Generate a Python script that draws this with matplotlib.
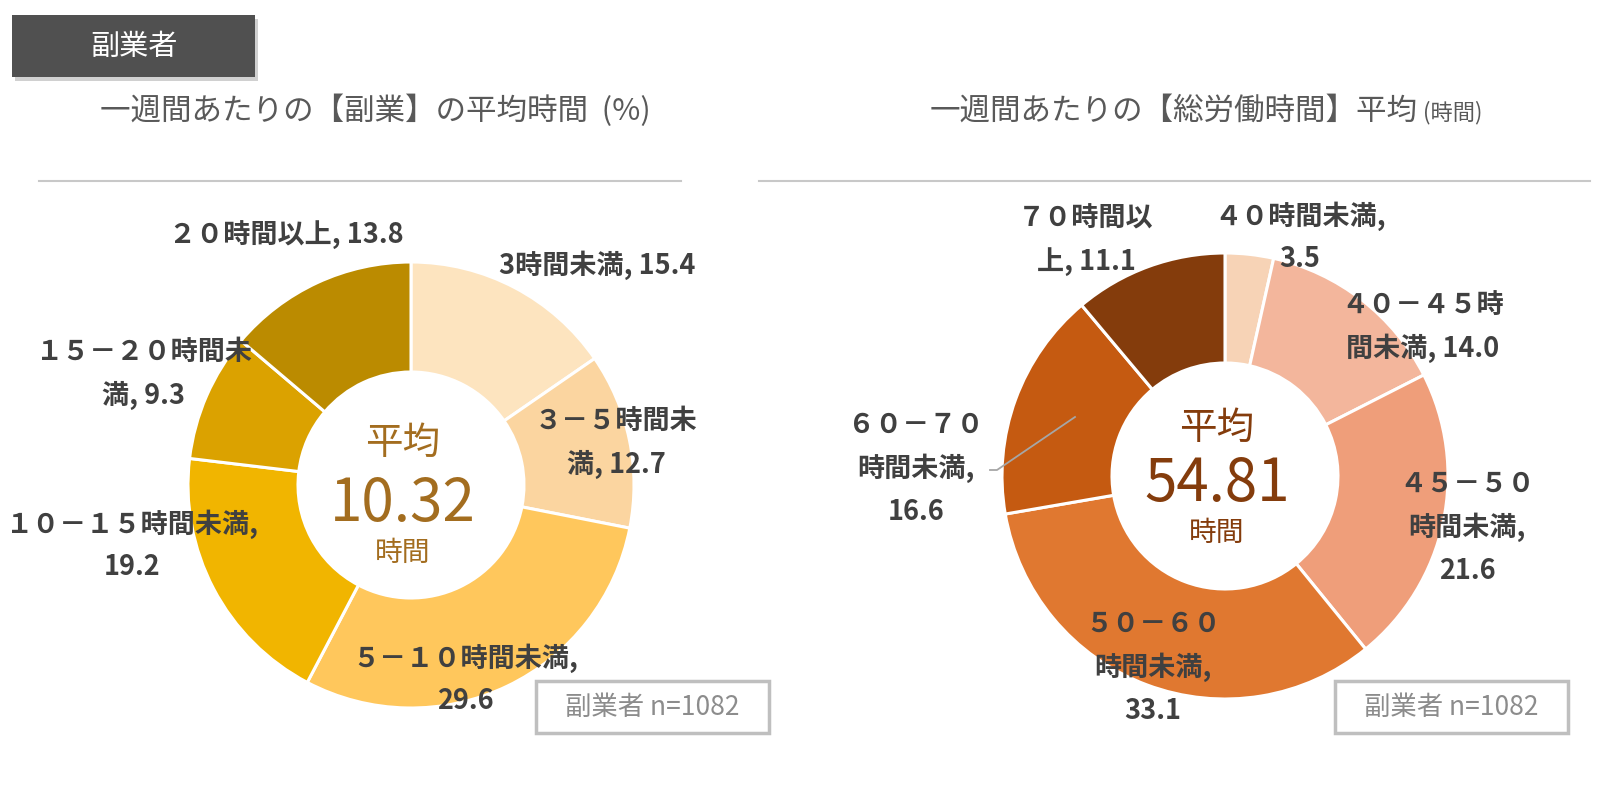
import matplotlib
matplotlib.use('Agg')
import matplotlib.pyplot as plt
from matplotlib.patches import Rectangle

plt.rcParams['font.family'] = ['Noto Sans CJK JP', 'DejaVu Sans']

# 副業時間 (%)
side_cats = ['3時間未満', '３－５時間未満', '５－１０時間未満', '１０－１５時間未満', '１５－２０時間未満', '２０時間以上']
side_vals = [15.4, 12.7, 29.6, 19.2, 9.3, 13.8]
side_mean = '10.32'

# 総労働時間 (%)
work_cats = ['４０時間未満', '４０－４５時間未満', '４５－５０時間未満', '５０－６０時間未満', '６０－７０時間未満', '７０時間以上']
work_vals = [3.5, 14.0, 21.6, 33.1, 16.6, 11.1]
work_mean = '54.81'

n_label = '副業者 n=1082'

side_colors = ['#FDE4BF', '#FBD5A0', '#FFC75C', '#F1B500', '#DBA200', '#BB8B00']
work_colors = ['#F7D3B6', '#F3B69C', '#EF9E7A', '#E07830', '#C55A11', '#843C0C']

H = 794  # image height, pixel coords given from top


def Y(y):
    return H - y


def label_text(name, val, cut, val_newline):
    s = name
    if cut:
        s = s[:cut] + '\n' + s[cut:]
    return s + (',\n' if val_newline else ', ') + '%.1f' % val


# label layout: (x, y, cut, value on new line)
side_layout = [(597, 265, None, False), (616, 443, 6, False), (465, 679, None, True),
               (132, 545, None, True), (144, 374, 8, False), (286, 235, None, False)]
work_layout = [(1300, 237, None, True), (1423, 327, 6, False), (1467, 527, 5, True),
               (1153, 667, 5, True), (916, 468, 5, True), (1086, 240, 5, False)]

fig = plt.figure(figsize=(16.14, 7.94), dpi=100)
ax = fig.add_axes([0, 0, 1, 1])


def donut(center, vals, colors, cats, layout, mean, mcolor, ys):
    ax.pie(vals, colors=colors, startangle=90, counterclock=False,
           center=(center[0], Y(center[1])), radius=223,
           wedgeprops=dict(width=110, edgecolor='white', linewidth=2.2))
    for name, v, (x, y, cut, nl) in zip(cats, vals, layout):
        ax.text(x, Y(y), label_text(name, v, cut, nl), ha='center', va='center',
                fontsize=19.5, fontweight='bold', color='#404040', linespacing=1.65,
                multialignment='center')
    cx = center[0] - 8
    ax.text(cx, Y(ys[0]), '平均', ha='center', va='center', fontsize=27, color=mcolor)
    ax.text(cx, Y(ys[1]), mean, ha='center', va='center', fontsize=42, color=mcolor)
    ax.text(cx, Y(ys[2]), '時間', ha='center', va='center', fontsize=20, color=mcolor)


donut((411, 485), side_vals, side_colors, side_cats, side_layout, side_mean, '#A36D1F',
      (443, 505, 553))
donut((1225, 476), work_vals, work_colors, work_cats, work_layout, work_mean, '#843C0C',
      (428, 485, 533))

# leader line for 60-70
ax.plot([990, 997, 1075], [Y(470), Y(470), Y(417)], color='#A6A6A6', lw=1.3)

# titles
ax.text(375, Y(111), '一週間あたりの【副業】の平均時間  (%)', ha='center', va='center',
        fontsize=22, color='#595959')
t = ax.text(930, Y(111), '一週間あたりの【総労働時間】平均', ha='left', va='center',
            fontsize=22, color='#595959')
ax.annotate(' (時間)', xy=(1, 0.45), xycoords=t, ha='left', va='center',
            fontsize=16, color='#595959')
ax.plot([39, 681], [Y(181), Y(181)], color='#C8C8C8', lw=1.5)
ax.plot([759, 1590], [Y(181), Y(181)], color='#C8C8C8', lw=1.5)

# header box
ax.add_patch(Rectangle((15, Y(81)), 243, 62, facecolor='#D0D0D0', edgecolor='none'))
ax.add_patch(Rectangle((12, Y(77)), 243, 62, facecolor='#505050', edgecolor='none'))
ax.text(134, Y(47), '副業者', ha='center', va='center', fontsize=21, color='white')

# n boxes
for x0 in (536, 1335):
    ax.add_patch(Rectangle((x0, Y(733)), 233, 52, facecolor='white', edgecolor='#BFBFBF', lw=2.5))
    ax.text(x0 + 116, Y(707), n_label, ha='center', va='center', fontsize=19, color='#8C8C8C')

ax.set_xlim(0, 1614)
ax.set_ylim(0, H)
ax.set_aspect('equal')
ax.axis('off')

fig.savefig('out.png', dpi=100, facecolor='white')
